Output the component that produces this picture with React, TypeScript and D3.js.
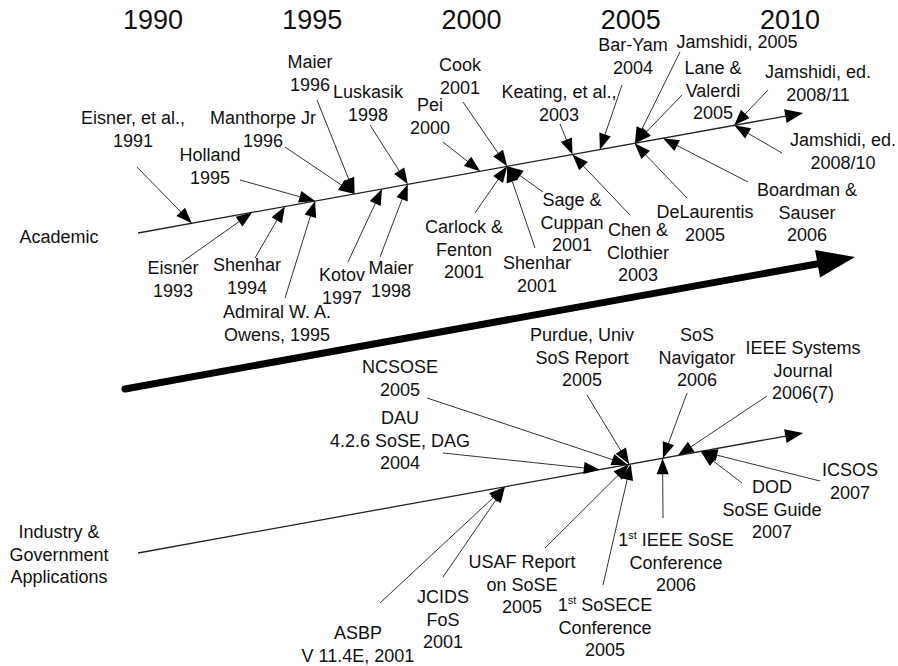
import React, { useRef, useEffect } from 'react';
import * as d3 from 'd3';

const yearTicks = [1990, 1995, 2000, 2005, 2010];

// Academic track: label text ("|" = new line), point on the time line
const academicLabels = [
  'Eisner, et al.,|1991', 'Holland|1995', 'Manthorpe Jr|1996', 'Maier|1996', 'Luskasik|1998',
  'Pei|2000', 'Cook|2001', 'Keating, et al.,|2003', 'Bar-Yam|2004', 'Jamshidi, 2005',
  'Lane &|Valerdi|2005', 'Jamshidi, ed.|2008/11',
  'Eisner|1993', 'Shenhar|1994', 'Admiral W. A.|Owens, 1995', 'Kotov|1997', 'Maier|1998',
  'Carlock &|Fenton|2001', 'Shenhar|2001', 'Sage &|Cuppan|2001', 'Chen &|Clothier|2003',
  'DeLaurentis|2005', 'Boardman &|Sauser|2006', 'Jamshidi, ed.|2008/10',
];
const academicTimes = [
  1991.22, 1995.09, 1996.33, 1996.33, 1998.0,
  2000.27, 2001.12, 2003.17, 2004.03, 2005.13,
  2005.15, 2008.25,
  1993.11, 1994.14, 1995.09, 1997.19, 1998.0,
  2001.12, 2001.12, 2001.12, 2003.17,
  2005.12, 2006.01, 2008.25,
];
// label centre x, first baseline y, arrow tail x, arrow tail y
const academicLayout = [
  [133, 124, 137, 167], [210, 161, 240, 180], [263, 124, 285, 147], [310, 68, 317, 100], [368, 98, 370, 125],
  [430, 111, 443, 142], [460, 71, 463, 102], [559, 98, 560, 124], [633, 51, 622, 85], [737, 48, 680, 52],
  [713, 74, 682, 95], [818, 78, 768, 90],
  [173, 274, 182, 262], [247, 271, 255, 258], [277, 318, 285, 298], [342, 281, 348, 262], [391, 274, 380, 257],
  [464, 233, 475, 213], [537, 269, 535, 248], [572, 206, 543, 192], [638, 236, 630, 215],
  [705, 218, 687, 198], [807, 196, 748, 182], [843, 146, 782, 153],
];

// Industry & Government track
const industryLabels = [
  'NCSOSE|2005', 'DAU|4.2.6 SoSE, DAG|2004', 'Purdue, Univ|SoS Report|2005', 'SoS|Navigator|2006',
  'IEEE Systems|Journal|2006(7)',
  'ASBP|V 11.4E, 2001', 'JCIDS|FoS|2001', 'USAF Report|on SoSE|2005', '1^st SoSECE|Conference|2005',
  '1^st IEEE SoSE|Conference|2006', 'DOD|SoSE Guide|2007', 'ICSOS|2007',
];
const industryTimes = [
  2004.9, 2004.03, 2004.95, 2006.01,
  2006.48,
  2001.05, 2001.05, 2004.95, 2005.0,
  2006.0, 2007.2, 2007.22,
];
const industryLayout = [
  [400, 373, 427, 398], [400, 424, 443, 453], [582, 341, 587, 395], [697, 341, 687, 393],
  [803, 354, 767, 396],
  [358, 639, 380, 603], [443, 603, 443, 577], [522, 568, 545, 548], [605, 611, 603, 585],
  [676, 546, 663, 518], [772, 493, 742, 483], [850, 476, 820, 481],
];

const trackNames = ['Academic', 'Industry &|Government|Applications'];

const App = () => {
  const ref = useRef(null);

  useEffect(() => {
    const svg = d3.select(ref.current);
    svg.selectAll('*').remove();

    const font = "'Liberation Sans', Arial, Helvetica, sans-serif";
    const x = d3.scaleLinear().domain([1990, 2010]).range([153, 790]);
    const yAcad = d3.scaleLinear().domain([1990, 2010]).range([230.3, 115.3]);
    const yInd = d3.scaleLinear().domain([1990, 2010]).range([550.3, 435.3]);
    const yBig = d3.scaleLinear().domain([1990, 2010]).range([383.9, 268.8]);
    const lineSpan = [1989.53, 2010.41];
    const bigSpan = [1989.12, 2012.04];

    // line with filled triangle head at (x2, y2)
    const arrow = (x1, y1, x2, y2, len, hw, color, sw, cap = 'butt') => {
      const d = Math.hypot(x2 - x1, y2 - y1);
      const ux = (x2 - x1) / d, uy = (y2 - y1) / d;
      const bx = x2 - ux * len, by = y2 - uy * len;
      svg.append('line')
        .attr('x1', x1).attr('y1', y1).attr('x2', bx + ux * 2).attr('y2', by + uy * 2)
        .attr('stroke', color).attr('stroke-width', sw).attr('stroke-linecap', cap);
      svg.append('path')
        .attr('d', d3.line()([[x2, y2], [bx - uy * hw, by + ux * hw], [bx + uy * hw, by - ux * hw]]) + 'Z')
        .attr('fill', '#000');
    };

    const label = (txt, cx, y0, size = 18) => {
      txt.split('|').forEach((ln, i) => {
        const t = svg.append('text')
          .attr('x', cx).attr('y', y0 + i * 22.5)
          .attr('text-anchor', 'middle')
          .style('font-family', font).style('font-size', size + 'px').attr('fill', '#111');
        const sup = ln.indexOf('^st');
        if (sup >= 0) {
          t.append('tspan').text(ln.slice(0, sup));
          t.append('tspan').attr('dy', -7).style('font-size', '11px').text('st');
          t.append('tspan').attr('dy', 7).text(ln.slice(sup + 3));
        } else {
          t.text(ln);
        }
      });
    };

    // year headings
    svg.append('g').selectAll('text').data(yearTicks).join('text')
      .attr('x', d => x(d)).attr('y', 29)
      .attr('text-anchor', 'middle')
      .style('font-family', font).style('font-size', '27px').attr('fill', '#111')
      .text(d => d);

    // the two time lines
    arrow(x(lineSpan[0]), yAcad(lineSpan[0]), x(lineSpan[1]), yAcad(lineSpan[1]), 18, 7, '#222', 1.3);
    arrow(x(lineSpan[0]), yInd(lineSpan[0]), x(lineSpan[1]), yInd(lineSpan[1]), 18, 7, '#222', 1.3);

    // big arrow between the tracks
    arrow(x(bigSpan[0]), yBig(bigSpan[0]), x(bigSpan[1]), yBig(bigSpan[1]), 38, 14, '#000', 7, 'round');

    // events
    academicLabels.forEach((txt, i) => {
      const [lx, ly, tx, ty] = academicLayout[i];
      const t = academicTimes[i];
      arrow(tx, ty, x(t), yAcad(t), 16, 6, '#333', 1);
      label(txt, lx, ly);
    });
    industryLabels.forEach((txt, i) => {
      const [lx, ly, tx, ty] = industryLayout[i];
      const t = industryTimes[i];
      arrow(tx, ty, x(t), yInd(t), 16, 6, '#333', 1);
      label(txt, lx, ly);
    });

    // track names
    label(trackNames[0], 59, 243);
    label(trackNames[1], 59, 538);
  }, []);

  return (
    <svg ref={ref} width="898" height="666"
      style={{ position: 'absolute', left: 0, top: 0, background: '#fff' }} />
  );
};

export default App;
